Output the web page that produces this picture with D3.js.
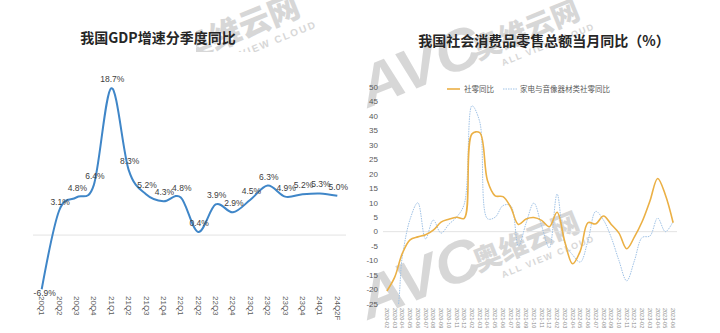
<!DOCTYPE html>
<html>
<head>
<meta charset="utf-8">
<script src="https://cdn.jsdelivr.net/npm/d3@7"></script>
<style>
  html, body { margin: 0; padding: 0; background: #fff; }
  svg { display: block; }
  .cjk { font-family: "Noto Sans CJK SC", "Noto Sans", sans-serif; }
  .lat { font-family: "Liberation Sans", Arial, sans-serif; }
</style>
</head>
<body>
<svg id="chart" width="720" height="333"></svg>
<script>
// ---- GDP, quarterly year-on-year growth (%) ----
const quarters = ["20Q1","20Q2","20Q3","20Q4","21Q1","21Q2","21Q3","21Q4","22Q1",
                  "22Q2","22Q3","22Q4","23Q1","23Q2","23Q3","23Q4","24Q1","24Q2F"];
const gdpGrowth = [-6.9, 3.1, 4.8, 6.4, 18.7, 8.3, 5.2, 4.3, 4.8,
                   0.4, 3.9, 2.9, 4.5, 6.3, 4.9, 5.2, 5.3, 5.0];

// ---- Retail sales of consumer goods, monthly year-on-year (%) ----
const months = ["2020-02","2020-03","2020-04","2020-05","2020-06","2020-07","2020-08","2020-09",
                "2020-10","2020-11","2020-12","2021-02","2021-03","2021-04","2021-05","2021-06",
                "2021-07","2021-08","2021-09","2021-10","2021-11","2021-12","2022-02","2022-03",
                "2022-04","2022-05","2022-06","2022-07","2022-08","2022-09","2022-10","2022-11",
                "2022-12","2023-02","2023-03","2023-04","2023-05","2023-06"];
const retailTotal = [-20.5, -15.8, -7.5, -2.8, -1.8, -1.1, 0.5, 3.3, 4.3, 5.0, 4.6,
                     33.8, 34.2, 17.7, 12.4, 12.1, 8.5, 2.5, 4.4, 4.9, 3.9, 1.7,
                     6.7, -3.5, -11.1, -6.7, 3.1, 2.7, 5.4, 2.5, -0.5, -5.9, -1.8,
                     3.5, 10.6, 18.4, 12.7, 3.1];
const applianceRetail = [-30.0, -29.7, -8.5, 4.3, 10.0, -2.5, 4.0, -0.5, 2.5, 5.0, 9.5,
                         43.5, 38.0, 4.5, 5.0, 9.0, 9.0, -5.0, 3.0, 9.9, 2.0, -5.6,
                         13.0, -4.0, -8.0, -10.5, -3.0, 7.0, 4.0, -2.0, -10.0, -17.0, -10.0,
                         -2.0, -1.5, 4.7, 0.0, 3.5];
const retailTicks = [50, 45, 40, 35, 30, 25, 20, 15, 10, 5, 0, -5, -10, -15, -20, -25];
const seriesNames = ["社零同比", "家电与音像器材类社零同比"];

const svg = d3.select("#chart");
const defs = svg.append("defs");

// ---------------- brand watermarks (behind the charts) ----------------
function watermark(g, cx, cy, k) {
  const m = g.append("g").attr("opacity", 0.45).attr("fill", "#a8a8a8")
    .attr("transform", `translate(${cx},${cy}) scale(${k})`);
  m.append("text").attr("class", "lat")
    .attr("transform", `translate(-110,48) rotate(-22) scale(0.84,0.78)`)
    .attr("font-size", 74).attr("font-weight", 700).attr("font-style", "italic")
    .text("AVC");
  m.append("text").attr("class", "cjk")
    .attr("transform", `rotate(-22)`)
    .attr("font-size", 28).attr("font-weight", 900)
    .text("奥维云网");
  m.append("text").attr("class", "lat")
    .attr("transform", `translate(25,6) rotate(-22)`)
    .attr("font-size", 9).attr("font-weight", 700).attr("letter-spacing", 1.6)
    .text("ALL VIEW CLOUD");
}
defs.append("clipPath").attr("id", "markClip")
  .append("rect").attr("x", 196).attr("y", 0).attr("width", 170).attr("height", 52);
watermark(svg.append("g").attr("clip-path", "url(#markClip)"), 186, 62, 1.12);
watermark(svg.append("g"), 478, 60, 1);
watermark(svg.append("g"), 478, 272, 1);

// ---------------- left chart: GDP ----------------
const left = svg.append("g");
left.append("text").attr("class", "cjk")
  .attr("x", 158).attr("y", 43).attr("text-anchor", "middle")
  .attr("font-size", 14).attr("font-weight", 700).attr("fill", "#262626")
  .text("我国GDP增速分季度同比");

const gx = d3.scalePoint().domain(quarters).range([33, 346]).padding(0.5);
const gy = d3.scaleLinear().domain([-7.5, 20]).range([294, 78]);

left.append("line")
  .attr("x1", 33).attr("x2", 346).attr("y1", gy(0)).attr("y2", gy(0))
  .attr("stroke", "#e3e3e3").attr("stroke-width", 1);

left.append("path")
  .datum(gdpGrowth)
  .attr("fill", "none").attr("stroke", "#3f86c8").attr("stroke-width", 2)
  .attr("d", d3.line().x((d, i) => gx(quarters[i])).y(d => gy(d)).curve(d3.curveCatmullRom.alpha(0)));

left.selectAll("text.val").data(gdpGrowth).join("text")
  .attr("class", "val lat")
  .attr("x", (d, i) => gx(quarters[i]) + (d < 0 ? 3 : 1))
  .attr("y", d => d < 0 ? gy(d) + 7 : gy(d) - 6)
  .attr("text-anchor", "middle").attr("font-size", 8.5).attr("fill", "#404040")
  .text(d => d.toFixed(1) + "%");

left.selectAll("text.qtr").data(quarters).join("text")
  .attr("class", "qtr lat")
  .attr("transform", d => `translate(${gx(d)},296) rotate(90)`)
  .attr("dominant-baseline", "central")
  .attr("font-size", 8).attr("fill", "#595959")
  .text(d => d);

// ---------------- right chart: retail sales ----------------
const right = svg.append("g");
right.append("text").attr("class", "cjk")
  .attr("x", 544).attr("y", 46).attr("text-anchor", "middle")
  .attr("font-size", 14).attr("font-weight", 700).attr("fill", "#262626")
  .text("我国社会消费品零售总额当月同比（%）");

const rx = d3.scalePoint().domain(months).range([383, 677]).padding(0.5);
const ry = d3.scaleLinear().domain([-25, 50]).range([304, 87]);

right.selectAll("text.ytick").data(retailTicks).join("text")
  .attr("class", "ytick lat")
  .attr("x", 378).attr("y", d => ry(d)).attr("dy", "0.35em")
  .attr("text-anchor", "end").attr("font-size", 8).attr("fill", "#595959")
  .text(d => d);

right.append("line")
  .attr("x1", 383).attr("x2", 677).attr("y1", ry(0)).attr("y2", ry(0))
  .attr("stroke", "#e3e3e3").attr("stroke-width", 1);

defs.append("clipPath").attr("id", "plotClip")
  .append("rect").attr("x", 383).attr("y", ry(50)).attr("width", 294).attr("height", ry(-25) - ry(50));

const retailLine = d3.line().x((d, i) => rx(months[i])).y(d => ry(d)).curve(d3.curveCatmullRom.alpha(0.5));
const plot = right.append("g").attr("clip-path", "url(#plotClip)");
plot.append("path").datum(applianceRetail)
  .attr("fill", "none").attr("stroke", "#9fc2e6").attr("stroke-width", 1)
  .attr("stroke-dasharray", "1.5,1").attr("d", retailLine);
plot.append("path").datum(retailTotal)
  .attr("fill", "none").attr("stroke", "#ebb045").attr("stroke-width", 1.6)
  .attr("d", retailLine);

right.selectAll("text.xtick").data(months).join("text")
  .attr("class", "xtick lat")
  .attr("transform", d => `translate(${rx(d)},308) rotate(90)`)
  .attr("dominant-baseline", "central")
  .attr("font-size", 5.5).attr("fill", "#8c8c8c")
  .text(d => d);

// legend
const legend = right.append("g").attr("class", "cjk");
legend.append("line").attr("x1", 447).attr("x2", 460).attr("y1", 89).attr("y2", 89)
  .attr("stroke", "#ebb045").attr("stroke-width", 1.6);
legend.append("text").attr("x", 464).attr("y", 89).attr("dy", "0.35em")
  .attr("font-size", 7.5).attr("fill", "#595959").text(seriesNames[0]);
legend.append("line").attr("x1", 503).attr("x2", 517).attr("y1", 89).attr("y2", 89)
  .attr("stroke", "#9fc2e6").attr("stroke-width", 1).attr("stroke-dasharray", "1.5,1");
legend.append("text").attr("x", 520).attr("y", 89).attr("dy", "0.35em")
  .attr("font-size", 7.5).attr("fill", "#595959").text(seriesNames[1]);
</script>
</body>
</html>
